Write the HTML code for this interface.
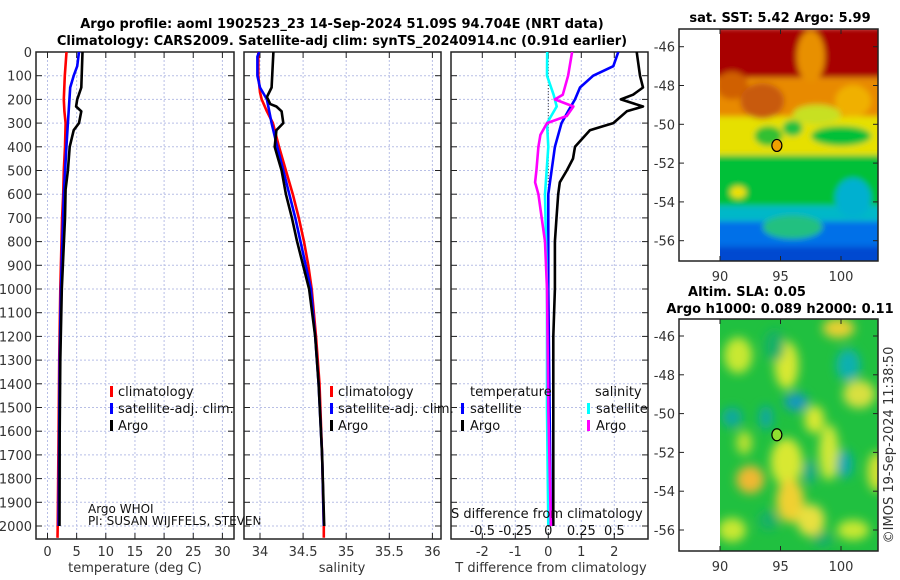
<!DOCTYPE html>
<html><head><meta charset="utf-8">
<style>
html,body{margin:0;padding:0;background:#fff;}
svg{display:block;font-family:"DejaVu Sans","Liberation Sans",sans-serif;}
.tk{font-size:13px;fill:#333;}
.tt{font-size:13px;font-weight:bold;fill:#000;}
.lg{font-size:13px;fill:#111;}
</style></head>
<body>
<svg id="fig" width="900" height="580" viewBox="0 0 900 580" xmlns="http://www.w3.org/2000/svg">
<defs>
<clipPath id="c1"><rect x="36" y="52" width="198" height="487"/></clipPath>
<clipPath id="c2"><rect x="244" y="52" width="197" height="487"/></clipPath>
<clipPath id="c3"><rect x="451" y="52" width="197" height="487"/></clipPath>
<clipPath id="cm1"><rect x="720" y="29" width="158" height="232"/></clipPath>
<clipPath id="cm2"><rect x="720" y="319" width="158" height="232"/></clipPath>
<filter id="bl" x="-20%" y="-20%" width="140%" height="140%"><feGaussianBlur stdDeviation="3"/></filter>
<filter id="bl2" x="-20%" y="-20%" width="140%" height="140%"><feGaussianBlur stdDeviation="5"/></filter>
</defs>
<text class="tt" x="342" y="28" text-anchor="middle">Argo profile: aoml 1902523_23 14-Sep-2024 51.09S 94.704E (NRT data)</text>
<text class="tt" x="342" y="45" text-anchor="middle">Climatology: CARS2009. Satellite-adj clim: synTS_20240914.nc (0.91d earlier)</text>
<g id="g1"></g>
<g id="g2"></g>
<g id="g3"></g>
<g id="m1"></g>
<g id="m2"></g>
<text class="tk" transform="translate(893,445) rotate(-90)" text-anchor="middle">©IMOS 19-Sep-2024 11:38:50</text>
</svg>
<script>
// ---- data ----
const depthTicks = [0,100,200,300,400,500,600,700,800,900,1000,1100,1200,1300,1400,1500,1600,1700,1800,1900,2000];
const tempTicks = [0,5,10,15,20,25,30];
const salTicks = [34,34.5,35,35.5,36];
const tdiffTicks = [-2,-1,0,1,2];
const sdiffTicks = [-0.5,-0.25,0,0.25,0.5];
const sdiffLabels = ["-0.5","-0.25","0","0.25","0.5"];

const climDepth = [0,100,200,250,300,400,500,600,700,1000,1300,1600,2000,2050];
const climT = [3.26,2.97,2.8,2.9,3.1,3.0,2.8,2.7,2.5,2.2,2.0,1.9,1.75,1.72];
const satDepth = [0,60,100,150,300,400,600,1000,1300,1600,2000];
const satT = [5.4,5.1,4.5,3.9,3.5,3.25,2.8,2.3,2.1,2.0,1.9];
const argoDepth = [0,150,200,230,250,300,330,400,500,580,700,1000,1300,1600,2000];
const argoT = [6.0,5.8,5.1,4.9,5.8,5.4,4.5,3.8,3.5,3.1,3.0,2.45,2.2,2.1,2.05];

const climSDepth = [0,100,170,200,250,300,400,500,600,700,800,900,1000,1200,1400,1700,2000,2050];
const climS = [33.98,33.98,34.0,34.02,34.08,34.15,34.22,34.3,34.38,34.45,34.51,34.56,34.6,34.65,34.69,34.72,34.74,34.74];
const satSDepth = [0,20,100,150,200,300,400,500,600,700,800,900,1000,1200,1400,1700,2000];
const satS = [33.99,33.97,33.97,34.0,34.08,34.135,34.2,34.27,34.34,34.41,34.47,34.53,34.59,34.64,34.68,34.72,34.74];
const argoSDepth = [0,150,190,220,230,250,300,330,400,450,500,600,700,800,900,1000,1200,1400,1700,2000];
const argoS = [34.155,34.135,34.08,34.12,34.19,34.25,34.27,34.19,34.17,34.21,34.25,34.3,34.37,34.43,34.5,34.57,34.64,34.68,34.72,34.745];

const dTDepth = [0,100,150,180,200,230,250,300,330,400,450,500,550,600,700,800,1000,1200,1500,2000];
const argoDT = [2.68,2.78,2.87,2.57,2.2,2.87,2.38,1.97,1.26,0.81,0.75,0.56,0.35,0.3,0.25,0.2,0.2,0.15,0.15,0.15];
const satDTDepth = [0,60,100,150,200,250,300,400,500,600,1000,1500,2000];
const satDT = [2.12,1.97,1.36,0.96,0.81,0.6,0.4,0.2,0.1,0.0,0.0,0.04,0.08];
const dSDepth = [0,100,180,230,300,400,600,1000,1500,2000];
const satDS = [-0.008,-0.01,0.04,0.064,-0.01,0,-0.025,-0.01,-0.01,0];
const argoDSDepth = [0,100,180,200,230,270,300,350,400,500,550,600,700,800,1000,1500,2000];
const argoDS = [0.18,0.15,0.11,0.05,0.19,0.14,-0.01,-0.06,-0.075,-0.09,-0.1,-0.075,-0.05,-0.025,-0.01,0.0,0.02];

// ---- helpers ----
const NS = "http://www.w3.org/2000/svg";
function mk(tag, attrs, parent){const e=document.createElementNS(NS,tag);for(const k in attrs)e.setAttribute(k,attrs[k]);parent.appendChild(e);return e;}
const yD = d => 52 + d*0.2370;
const TOP=52, BOT=539;

function panel(g, x0, x1, xf, ticks, labels, clip, name){
  ticks.forEach(v=>{const x=xf(v);
    const l=mk('line',{x1:x,x2:x,y1:TOP,y2:BOT,stroke:'#b8bfe6','stroke-width':1,'stroke-dasharray':'2,2'},g);
    
    
  });
  depthTicks.forEach(d=>{const y=yD(d);
    const l=mk('line',{x1:x0,x2:x1,y1:y,y2:y,stroke:'#b8bfe6','stroke-width':1,'stroke-dasharray':'2,2'},g);
    
    
    mk('line',{x1:x0,x2:x0+6,y1:y,y2:y,stroke:'#222','stroke-width':1},g);
    mk('line',{x1:x1-6,x2:x1,y1:y,y2:y,stroke:'#222','stroke-width':1},g);
  });
  ticks.forEach(v=>{const x=xf(v);
    mk('line',{x1:x,x2:x,y1:BOT-6,y2:BOT,stroke:'#222'},g);
    mk('line',{x1:x,x2:x,y1:TOP,y2:TOP+6,stroke:'#222'},g);
  });
  const r=mk('rect',{x:x0,y:TOP,width:x1-x0,height:BOT-TOP,fill:'none',stroke:'#222','stroke-width':1.5},g);
  
  
  if(labels){ticks.forEach((v,i)=>{
    const t=mk('text',{x:xf(v),y:556,'text-anchor':'middle',class:'tk'},g);t.textContent=labels[i];
    
    
  });}
}
function line(g, xs, ds, xf, color, clip, name, w){
  const pts = xs.map((v,i)=>xf(v).toFixed(1)+','+yD(ds[i]).toFixed(1)).join(' ');
  const p=mk('polyline',{points:pts,fill:'none',stroke:color,'stroke-width':w||2.6,'stroke-linejoin':'round','clip-path':'url(#'+clip+')'},g);
  
  
}
function txt(g,x,y,s,cls,name,anchor){const t=mk('text',{x:x,y:y,class:cls,'text-anchor':anchor||'start'},g);t.textContent=s;
  
  
  return t;}
function legMark(g,x,y,color,name){const r=mk('rect',{x:x,y:y-10,width:3,height:11,fill:color},g);
  
  }

// ---- panel 1 ----
const g1=document.getElementById('g1');
const xT = v => 47.5 + v*5.83;
panel(g1,36,234,xT,tempTicks,tempTicks.map(String),'c1','temp');
depthTicks.forEach(d=>{txt(g1,32,yD(d)+5,String(d),'tk','depth-tick-label','end');});
line(g1,climT,climDepth,xT,'#ff0000','c1','temp-climatology-line');
line(g1,satT,satDepth,xT,'#0000ff','c1','temp-satellite-line');
line(g1,argoT,argoDepth,xT,'#000000','c1','temp-argo-line');
legMark(g1,110,396,'#ff0000','legend-marker-climatology');txt(g1,118,396,'climatology','lg','legend-climatology');
legMark(g1,110,413,'#0000ff','legend-marker-satellite');txt(g1,118,413,'satellite-adj. clim.','lg','legend-satellite-adj');
legMark(g1,110,430,'#000000','legend-marker-argo');txt(g1,118,430,'Argo','lg','legend-argo');
txt(g1,88,513,'Argo WHOI','lg','argo-institution-note').setAttribute('style','font-size:12px');
txt(g1,88,525,'PI: SUSAN WIJFFELS, STEVEN','lg','pi-note').setAttribute('style','font-size:12px');
txt(g1,135,572,'temperature (deg C)','tk','x-axis-title-temperature','middle');

// ---- panel 2 ----
const g2=document.getElementById('g2');
const xS = v => 260 + (v-34)*86.2;
panel(g2,244,441,xS,salTicks,salTicks.map(String),'c2','sal');
line(g2,climS,climSDepth,xS,'#ff0000','c2','sal-climatology-line');
line(g2,satS,satSDepth,xS,'#0000ff','c2','sal-satellite-line');
line(g2,argoS,argoSDepth,xS,'#000000','c2','sal-argo-line');
legMark(g2,330,396,'#ff0000','legend-marker-climatology');txt(g2,338,396,'climatology','lg','legend-climatology');
legMark(g2,330,413,'#0000ff','legend-marker-satellite');txt(g2,338,413,'satellite-adj. clim.','lg','legend-satellite-adj');
legMark(g2,330,430,'#000000','legend-marker-argo');txt(g2,338,430,'Argo','lg','legend-argo');
txt(g2,342,572,'salinity','tk','x-axis-title-salinity','middle');

// ---- panel 3 ----
const g3=document.getElementById('g3');
const xDT = v => 548.3 + v*33;
const xDS = v => 548.3 + v*132;
panel(g3,451,648,xDT,tdiffTicks,tdiffTicks.map(String),'c3','diff');
const zl=mk('line',{x1:xDT(0),x2:xDT(0),y1:TOP,y2:BOT,stroke:'#444','stroke-dasharray':'1,2'},g3);


line(g3,argoDT,dTDepth,xDT,'#000000','c3','tdiff-argo-line');
line(g3,satDT,satDTDepth,xDT,'#0000ff','c3','tdiff-satellite-line');
line(g3,satDS,dSDepth,xDS,'#00ffff','c3','sdiff-satellite-line');
line(g3,argoDS,argoDSDepth,xDS,'#ff00ff','c3','sdiff-argo-line');
txt(g3,470,396,'temperature','lg','legend-title-temperature');
txt(g3,595,396,'salinity','lg','legend-title-salinity');
legMark(g3,461,413,'#0000ff','legend-marker-t-satellite');txt(g3,470,413,'satellite','lg','legend-t-satellite');
legMark(g3,461,430,'#000000','legend-marker-t-argo');txt(g3,470,430,'Argo','lg','legend-t-argo');
legMark(g3,587,413,'#00ffff','legend-marker-s-satellite');txt(g3,596,413,'satellite','lg','legend-s-satellite');
legMark(g3,587,430,'#ff00ff','legend-marker-s-argo');txt(g3,596,430,'Argo','lg','legend-s-argo');
txt(g3,451,518,'S difference from climatology','lg','s-diff-axis-title');
sdiffTicks.forEach((v,i)=>{txt(g3,xDS(v),535,sdiffLabels[i],'lg','s-diff-tick-label','middle');});
txt(g3,551,572,'T difference from climatology','tk','x-axis-title-tdiff','middle');

// ---- maps ----
const lonTicks=[90,95,100];
const latTicks=[-46,-48,-50,-52,-54,-56];
const mx = lon => 720 + (lon-90)*12.1;
function mapFrame(g, top, bot, latf, name){
  mk('rect',{x:679,y:top,width:199,height:bot-top,fill:'none',stroke:'#222','stroke-width':1.5},g);
  latTicks.forEach(l=>{const y=latf(l);
    mk('line',{x1:679,x2:684,y1:y,y2:y,stroke:'#222'},g);mk('line',{x1:873,x2:878,y1:y,y2:y,stroke:'#222'},g);
    txt(g,675,y+5,String(l),'tk',name+'-lat-label','end');});
  lonTicks.forEach(l=>{const x=mx(l);
    mk('line',{x1:x,x2:x,y1:bot-5,y2:bot,stroke:'#222'},g);mk('line',{x1:x,x2:x,y1:top,y2:top+5,stroke:'#222'},g);
    txt(g,x,bot+20,String(l),'tk',name+'-lon-label','middle');});
}
// SST map
const m1=document.getElementById('m1');
const ly1 = lat => 46.7 + (-46-lat)*19.4;
const s1=mk('g',{'clip-path':'url(#cm1)'},m1);
const bands1=[[-45,-47.6,'#a80000'],[-47.6,-49.6,'#e88a00'],[-49.6,-51.6,'#e6e000'],[-51.6,-54.2,'#00c038'],[-54.2,-55,'#00b8c8'],[-55,-56.3,'#0070e8'],[-56.3,-58,'#0048d0']];
const bg1=mk('g',{filter:'url(#bl)'},s1);
bands1.forEach(b=>mk('rect',{x:710,y:ly1(b[0]),width:180,height:ly1(b[1])-ly1(b[0]),fill:b[2]},bg1));
[[97.5,-46.5,14,26,'#e89000'],[91,-48,16,14,'#d06000'],[93.5,-48.8,22,18,'#c85a10'],[96,-50.2,10,8,'#20c040'],[101,-48.8,18,16,'#f0b000'],[100,-50.6,30,10,'#00c038'],[91.5,-53.5,8,6,'#f0e000'],[94,-50.6,14,10,'#30c030'],[101,-53.8,18,20,'#00b0d0'],[96,-55.3,30,12,'#20c080'],[98,-49.5,24,10,'#c8e020']].forEach(e=>mk('ellipse',{cx:mx(e[0]),cy:ly1(e[1]),rx:e[2],ry:e[3],fill:e[4]},bg1));
mapFrame(m1,29,261,ly1,'sst');
mk('ellipse',{cx:mx(94.7),cy:ly1(-51.09),rx:5,ry:6,fill:'#f0a000',stroke:'#000','stroke-width':1.2},m1);
txt(m1,780,22,'sat. SST: 5.42 Argo: 5.99','tt','sst-map-title','middle');
// SLA map
const m2=document.getElementById('m2');
const ly2 = lat => 336 + (-46-lat)*19.4;
const s2=mk('g',{'clip-path':'url(#cm2)'},m2);
mk('rect',{x:720,y:319,width:158,height:232,fill:'#20c040'},s2);
const bg2=mk('g',{filter:'url(#bl2)'},s2);
[[91.5,-47,14,18,'#c8e830'],[95.5,-47.5,12,24,'#d8e830'],[99.8,-45.6,16,10,'#e8d030'],[101.5,-49,16,14,'#d8e040'],[97.8,-50.3,10,14,'#d8e830'],[95.5,-52.5,16,24,'#d8e830'],[92.5,-53.4,14,14,'#f0b830'],[95.8,-54.5,14,22,'#f0d030'],[97.5,-55.5,14,16,'#e8e040'],[99,-52,10,28,'#d0e838'],[91,-56,14,12,'#c8e830'],[103,-53,10,20,'#d0e030'],[92,-51.5,8,12,'#b8e030'],[101,-56,16,10,'#c8e830']].forEach(e=>mk('ellipse',{cx:mx(e[0]),cy:ly2(e[1]),rx:e[2],ry:e[3],fill:e[4]},bg2));
[[96.3,-49.4,12,9,'#1898c0'],[91,-50.2,10,10,'#10a8a0'],[93.8,-50.2,7,12,'#10a8a0'],[100.6,-47.5,12,16,'#10b0b0'],[100.3,-52.6,8,14,'#10a8b0'],[97.4,-53,6,12,'#10a890'],[94.5,-46.5,10,16,'#18b068'],[94,-55.5,10,10,'#18b068'],[98.5,-56.5,10,8,'#18b068']].forEach(e=>mk('ellipse',{cx:mx(e[0]),cy:ly2(e[1]),rx:e[2],ry:e[3],fill:e[4]},bg2));
mapFrame(m2,319,551,ly2,'sla');
mk('ellipse',{cx:mx(94.7),cy:ly2(-51.09),rx:5,ry:6,fill:'#90e030',stroke:'#000','stroke-width':1.2},m2);
txt(m2,747,296,'Altim. SLA: 0.05','tt','sla-map-title','middle');
txt(m2,780,313,'Argo h1000: 0.089 h2000: 0.11','tt','sla-map-subtitle','middle');
</script>
</body></html>
